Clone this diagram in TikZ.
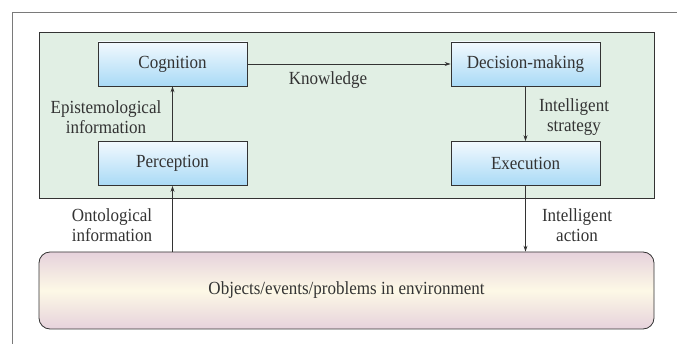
\documentclass[tikz,border=0pt]{standalone}
\usepackage{fontspec}
\setmainfont{Liberation Serif}[FakeStretch=0.92]
\usetikzlibrary{arrows.meta}
\definecolor{greenbg}{HTML}{E1EFE4}
\definecolor{bluetop}{HTML}{F2F9FE}
\definecolor{bluebot}{HTML}{A9DAF6}
\definecolor{pinkc}{HTML}{E6D2DC}
\definecolor{creamc}{HTML}{FDF8E6}
\definecolor{framec}{HTML}{7A7A7A}
\definecolor{linec}{HTML}{333333}
\tikzset{
  x=1pt,y=-1pt,
  every node/.style={font=\fontsize{18.5}{20.5}\selectfont, text=black!80},
  proc/.style={draw=linec, line width=0.8pt, top color=bluetop, bottom color=bluebot, minimum width=149pt, minimum height=44pt, inner sep=0pt},
  arr/.style={draw=linec, line width=0.8pt, -{Stealth[length=6pt,width=4pt]}},
  lbl/.style={align=center, inner sep=0pt}
}
\begin{document}
\begin{tikzpicture}
\useasboundingbox (0,0) rectangle (677,344);
\draw[framec, line width=0.9pt] (12,344) -- (12,12) -- (677,12);
\fill[greenbg] (39,32) rectangle (654,198);
\draw[linec, line width=0.8pt] (39,32) rectangle (654,198);
\node[proc] (cog) at (172.5,64) {Cognition};
\node[proc] (per) at (172.5,163.5) {Perception};
\node[proc] (dec) at (525.5,64) {Decision-making};
\node[proc] (exe) at (525.5,163.5) {Execution};
\node[draw=linec, line width=0.8pt, rounded corners=11pt, minimum width=615pt, minimum height=77pt, inner sep=0pt,
  shading=axis, top color=pinkc, bottom color=pinkc, middle color=creamc] (env) at (346.5,290.5) {Objects/events/problems in environment};
\draw[arr] (per) -- (cog);
\draw[arr] (cog) -- (dec);
\draw[arr] (dec) -- (exe);
\draw[arr] (exe.south) -- (exe.south |- env.north);
\draw[arr] (per.south |- env.north) -- (per.south);
\node[lbl] (k) at (328,80) {Knowledge};
\node[lbl] (ep) at (106,117) {Epistemological\\information};
\node[lbl] (is) at (574,117) {Intelligent\\strategy};
\node[lbl] (on) at (112,225) {Ontological\\information};
\node[lbl] (ia) at (577,225) {Intelligent\\action};
\end{tikzpicture}
\end{document}
